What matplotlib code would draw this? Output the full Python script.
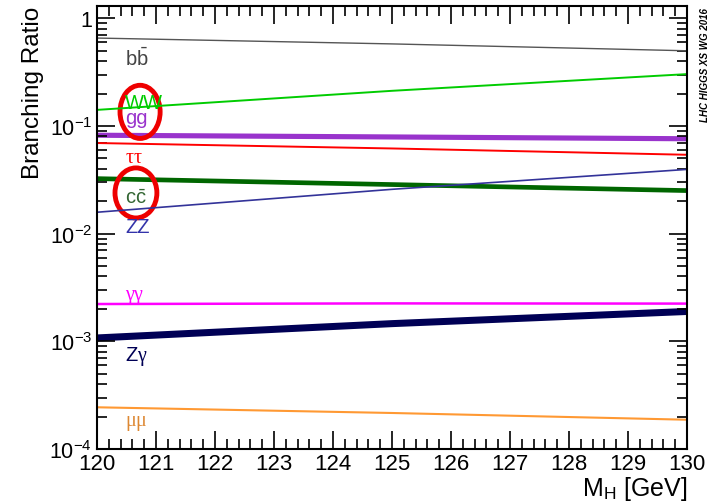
import numpy as np
import matplotlib
matplotlib.use("Agg")
import matplotlib.pyplot as plt
from matplotlib.patches import Ellipse
from matplotlib.ticker import FixedLocator, LogLocator, NullFormatter, FuncFormatter, MultipleLocator

plt.rcParams['font.family'] = ['Liberation Sans', 'DejaVu Sans']
plt.rcParams['mathtext.fontset'] = 'custom'
plt.rcParams['mathtext.rm'] = 'Liberation Sans'
plt.rcParams['mathtext.it'] = 'Liberation Serif'

# Higgs mass (GeV)
mh = [120, 125, 130]

# branching ratios
br_bb = [0.655, 0.578, 0.499]
br_ww = [0.141, 0.212, 0.303]
br_gg = [0.083, 0.080, 0.077]
br_tautau = [0.0694, 0.0618, 0.0540]
br_cc = [0.0328, 0.0289, 0.0254]
br_zz = [0.0158, 0.0258, 0.0395]
br_aa = [0.00222, 0.00225, 0.00224]
br_za = [0.00109, 0.00148, 0.00192]
br_mumu = [0.000244, 0.000216, 0.000187]

# relative band half-widths for the thick curves
unc_gg = 0.055
unc_cc = 0.05
unc_za = 0.075

labels = [r'$\mathrm{b\bar{b}}$', 'WW', 'gg', r'$\tau\tau$', r'$\mathrm{c\bar{c}}$',
          'ZZ', r'$\gamma\gamma$', r'Z$\gamma$', r'$\mu\mu$']
label_y = [0.43, 0.165, 0.12, 0.0515, 0.0218, 0.0117, 0.00258, 0.000735, 0.000175]

fig = plt.figure(figsize=(7.1, 5.02), dpi=100)
ax = fig.add_axes([97 / 710, 52 / 502, 590 / 710, 443 / 502])

x = np.array(mh)

def band(vals, unc, color):
    v = np.array(vals)
    ax.fill_between(x, v * (1 - unc), v * (1 + unc), color=color, lw=0)

ax.plot(x, br_bb, color='#555555', lw=1.0)
ax.plot(x, br_ww, color='#00cc00', lw=1.4)
band(br_gg, unc_gg, '#9933cc')
ax.plot(x, br_tautau, color='#ff0000', lw=1.4)
band(br_cc, unc_cc, '#006600')
ax.plot(x, br_zz, color='#333399', lw=1.2)
ax.plot(x, br_aa, color='#ff00ff', lw=1.8)
band(br_za, unc_za, '#000055')
ax.plot(x, br_mumu, color='#ff9933', lw=1.5)

label_colors = ['#444444', '#00cc00', '#9933cc', '#ff0000', '#336633',
                '#3333aa', '#ff00ff', '#000055', '#dd8833']
for lab, ly, c in zip(labels, label_y, label_colors):
    ax.text(120.48, ly, lab, color=c, fontsize=14.5, va='center', ha='left')

ax.set_yscale('log')
ax.set_xlim(120, 130)
ax.set_ylim(1e-4, 1.3)

ax.xaxis.set_major_locator(MultipleLocator(1))
ax.xaxis.set_minor_locator(MultipleLocator(0.2))
ax.yaxis.set_major_locator(FixedLocator([1e-4, 1e-3, 1e-2, 1e-1, 1]))
ax.yaxis.set_minor_locator(LogLocator(base=10, subs=np.arange(2, 10), numticks=20))
ax.yaxis.set_minor_formatter(NullFormatter())

def yfmt(v, pos):
    e = int(round(np.log10(v)))
    if e == 0:
        return '1'
    return r'$\mathrm{10^{%d}}$' % e

ax.yaxis.set_major_formatter(FuncFormatter(yfmt))

ax.tick_params(which='both', direction='in', top=True, right=True, width=1.2)
ax.tick_params(axis='x', labelsize=16, pad=3)
ax.tick_params(axis='y', labelsize=15.5)
ax.tick_params(which='major', length=13)
ax.tick_params(which='minor', length=7)
for s in ax.spines.values():
    s.set_linewidth(1.5)

ax.set_ylabel('Branching Ratio', fontsize=17.5, loc='top')
ax.set_xlabel(r'M$_\mathrm{H}$ [GeV]', fontsize=18, loc='right')
ax.xaxis.set_label_coords(1.0, -0.056)

fig.text(705 / 710, 1 - 65 / 502, 'LHC HIGGS XS WG 2016', rotation=90, fontsize=7,
         fontweight='bold', fontstyle='italic', ha='center', va='center')

# red circles
ax.add_patch(Ellipse((0.073, 0.761), 0.068, 0.12, transform=ax.transAxes,
                     fill=False, ec='#ee0000', lw=3.5, clip_on=False))
ax.add_patch(Ellipse((0.066, 0.578), 0.071, 0.113, transform=ax.transAxes,
                     fill=False, ec='#ee0000', lw=3.5, clip_on=False))

fig.savefig('out.png', dpi=100)
